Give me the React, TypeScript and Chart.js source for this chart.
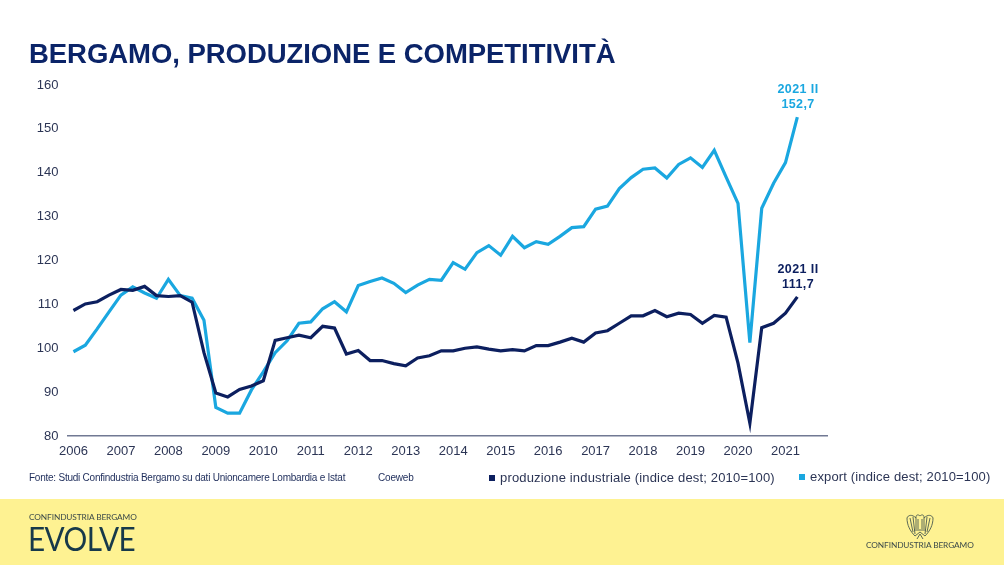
import React, { useEffect, useRef } from "react";
import { Chart, registerables } from "chart.js";

Chart.register(...registerables);

const years = ["2006","2007","2008","2009","2010","2011","2012","2013","2014","2015","2016","2017","2018","2019","2020","2021"];
const quarters = ["I","II","III","IV"];
const categories = years.flatMap((y) => quarters.map((q) => `${y} ${q}`));

const produzione = [
  108.6,110.1,110.6,112.1,113.4,113.2,114.1,112,111.8,112,110.5,99,89.8,88.9,90.6,91.4,92.6,101.8,102.4,103,102.4,105,104.6,
  98.7,99.5,97.2,97.2,96.5,96,97.8,98.3,99.4,99.4,100,100.3,99.8,99.4,99.7,99.4,100.6,100.6,101.4,102.3,101.4,
  103.5,104,105.7,107.4,107.4,108.6,107.2,108,107.7,105.7,107.5,107.1,96.6,82.9,104.7,105.7,108,111.7,
];
const exportSeries = [
  99.2,100.7,104.4,108.3,112.1,114,112.6,111.4,115.7,112,111.4,106.4,86.5,85.2,85.2,90.5,94.6,99,101.7,105.7,106,109,110.6,
  108.3,114.3,115.2,116,114.8,112.7,114.4,115.7,115.5,119.5,118,121.8,123.4,121.2,125.5,122.9,124.3,123.7,125.5,127.5,127.7,
  131.7,132.4,136.4,138.9,140.8,141.1,138.8,141.9,143.4,141.2,145.1,139,133,101.3,131.9,137.6,142.3,152.7,
];

const DARK = "#0c1f5f";
const LIGHT = "#1aa7e0";
const TICK = "#2c3555";
const FONT = "'Liberation Sans', Arial, sans-serif";

const endLabels = {
  id: "endLabels",
  afterDatasetsDraw(chart: any) {
    const { ctx, scales } = chart;
    ctx.save();
    ctx.textAlign = "center";
    ctx.textBaseline = "middle";
    ctx.font = `bold 12.5px ${FONT}`;
    ctx.letterSpacing = "0.4px";
    chart.data.datasets.forEach((ds: any) => {
      const i = ds.data.length - 1;
      const x = scales.x.getPixelForValue(i) + 0.7;
      const y = scales.y.getPixelForValue(ds.data[i]);
      ctx.fillStyle = ds.borderColor;
      ctx.fillText("2021 II", x, y - 27);
      ctx.fillText(String(ds.data[i]).replace(".", ","), x, y - 12);
    });
    ctx.restore();
  },
};

const abs = (left: number, top: number, extra: React.CSSProperties = {}): React.CSSProperties => ({
  position: "absolute",
  left,
  top,
  whiteSpace: "nowrap",
  fontFamily: FONT,
  lineHeight: 1,
  ...extra,
});

export default function App() {
  const ref = useRef<HTMLCanvasElement>(null);
  useEffect(() => {
    document.body.style.margin = "0";
    const chart = new Chart(ref.current!, {
      type: "line",
      data: {
        labels: categories,
        datasets: [
          { label: "produzione industriale", data: produzione, borderColor: DARK, borderWidth: 3.2, pointRadius: 0, tension: 0 },
          { label: "export", data: exportSeries, borderColor: LIGHT, borderWidth: 3.2, pointRadius: 0, tension: 0 },
        ],
      },
      options: {
        animation: false,
        responsive: false,
        layout: { padding: { left: 0, top: 85, right: 177, bottom: 0 } },
        plugins: { legend: { display: false }, tooltip: { enabled: false } },
        scales: {
          x: {
            offset: true,
            grid: { display: false },
            border: { color: "#717993", width: 1.5 },
            afterFit: (s: any) => { s.height = 129; },
            ticks: {
              autoSkip: false,
              maxRotation: 0,
              padding: 0,
              color: TICK,
              font: { family: FONT, size: 13 },
              callback: (_v: any, i: number) => (i % 4 === 0 ? years[i / 4] : ""),
            },
          },
          y: {
            min: 80,
            max: 160,
            grid: { display: false },
            border: { display: false },
            afterFit: (s: any) => { s.width = 67.5; },
            ticks: { stepSize: 10, padding: 1, color: TICK, font: { family: FONT, size: 13 } },
          },
        },
      },
      plugins: [endLabels],
    } as any);
    return () => chart.destroy();
  }, []);

  return (
    <div style={{ position: "relative", width: 1004, height: 565, overflow: "hidden", background: "#fff" }}>
      <div style={abs(0, 499, { width: 1004, height: 66, background: "#fef292" })} />
      <canvas ref={ref} width={1004} height={565} style={{ position: "absolute", left: 0, top: 0, display: "block" }} />
      <div style={abs(29, 40, { fontSize: 27.5, fontWeight: 700, color: "#0b2468", letterSpacing: -0.05 })}>
        BERGAMO, PRODUZIONE E COMPETITIVITÀ
      </div>
      <div style={abs(29, 473, { fontSize: 10, color: "#1d2c5a", letterSpacing: -0.24 })}>
        Fonte: Studi Confindustria Bergamo su dati Unioncamere Lombardia e Istat
      </div>
      <div style={abs(378, 473, { fontSize: 10, color: "#1d2c5a", letterSpacing: -0.2 })}>Coeweb</div>
      <div style={abs(489, 475, { width: 6, height: 6, background: DARK })} />
      <div style={abs(500, 471, { fontSize: 13, color: "#2c3555", letterSpacing: 0.17 })}>
        produzione industriale (indice dest; 2010=100)
      </div>
      <div style={abs(799, 474, { width: 6, height: 6, background: LIGHT })} />
      <div style={abs(810, 470, { fontSize: 13, color: "#2c3555", letterSpacing: 0.15 })}>
        export (indice dest; 2010=100)
      </div>
      <div style={abs(29, 513, { fontSize: 8.3, color: "#3c4a4a", fontFamily: "Lato, sans-serif", letterSpacing: -0.1 })}>
        CONFINDUSTRIA BERGAMO
      </div>
      <div style={abs(28, 522, { fontSize: 33, color: "#17394a", fontFamily: "Lato, sans-serif", fontWeight: 400, letterSpacing: -0.6, transform: "scaleX(0.9)", transformOrigin: "left" })}>
        EVOLVE
      </div>
      <svg style={{ position: "absolute", left: 906, top: 513 }} width="28" height="28" viewBox="0 0 28 28" fill="none" stroke="#4a5a50" strokeWidth="0.9">
        <path d="M14 3 C12 1 10 2 10 4 L10 16 M14 3 C16 1 18 2 18 4 L18 16 M10 5 C6 1 2 2 1 5 C1 12 4 18 9 23 M18 5 C22 1 26 2 27 5 C27 12 24 18 19 23 M4 5 L7 19 M7 4 L9 21 M24 5 L21 19 M21 4 L19 21 M12 6 L12 16 M16 6 L16 16 M8 17 L20 17 M9 23 L14 19 L19 23 M11 26 L14 21 L17 26" />
      </svg>
      <div style={abs(866, 541, { fontSize: 8.3, color: "#3c4a4a", fontFamily: "Lato, sans-serif", letterSpacing: -0.1 })}>
        CONFINDUSTRIA BERGAMO
      </div>
    </div>
  );
}
